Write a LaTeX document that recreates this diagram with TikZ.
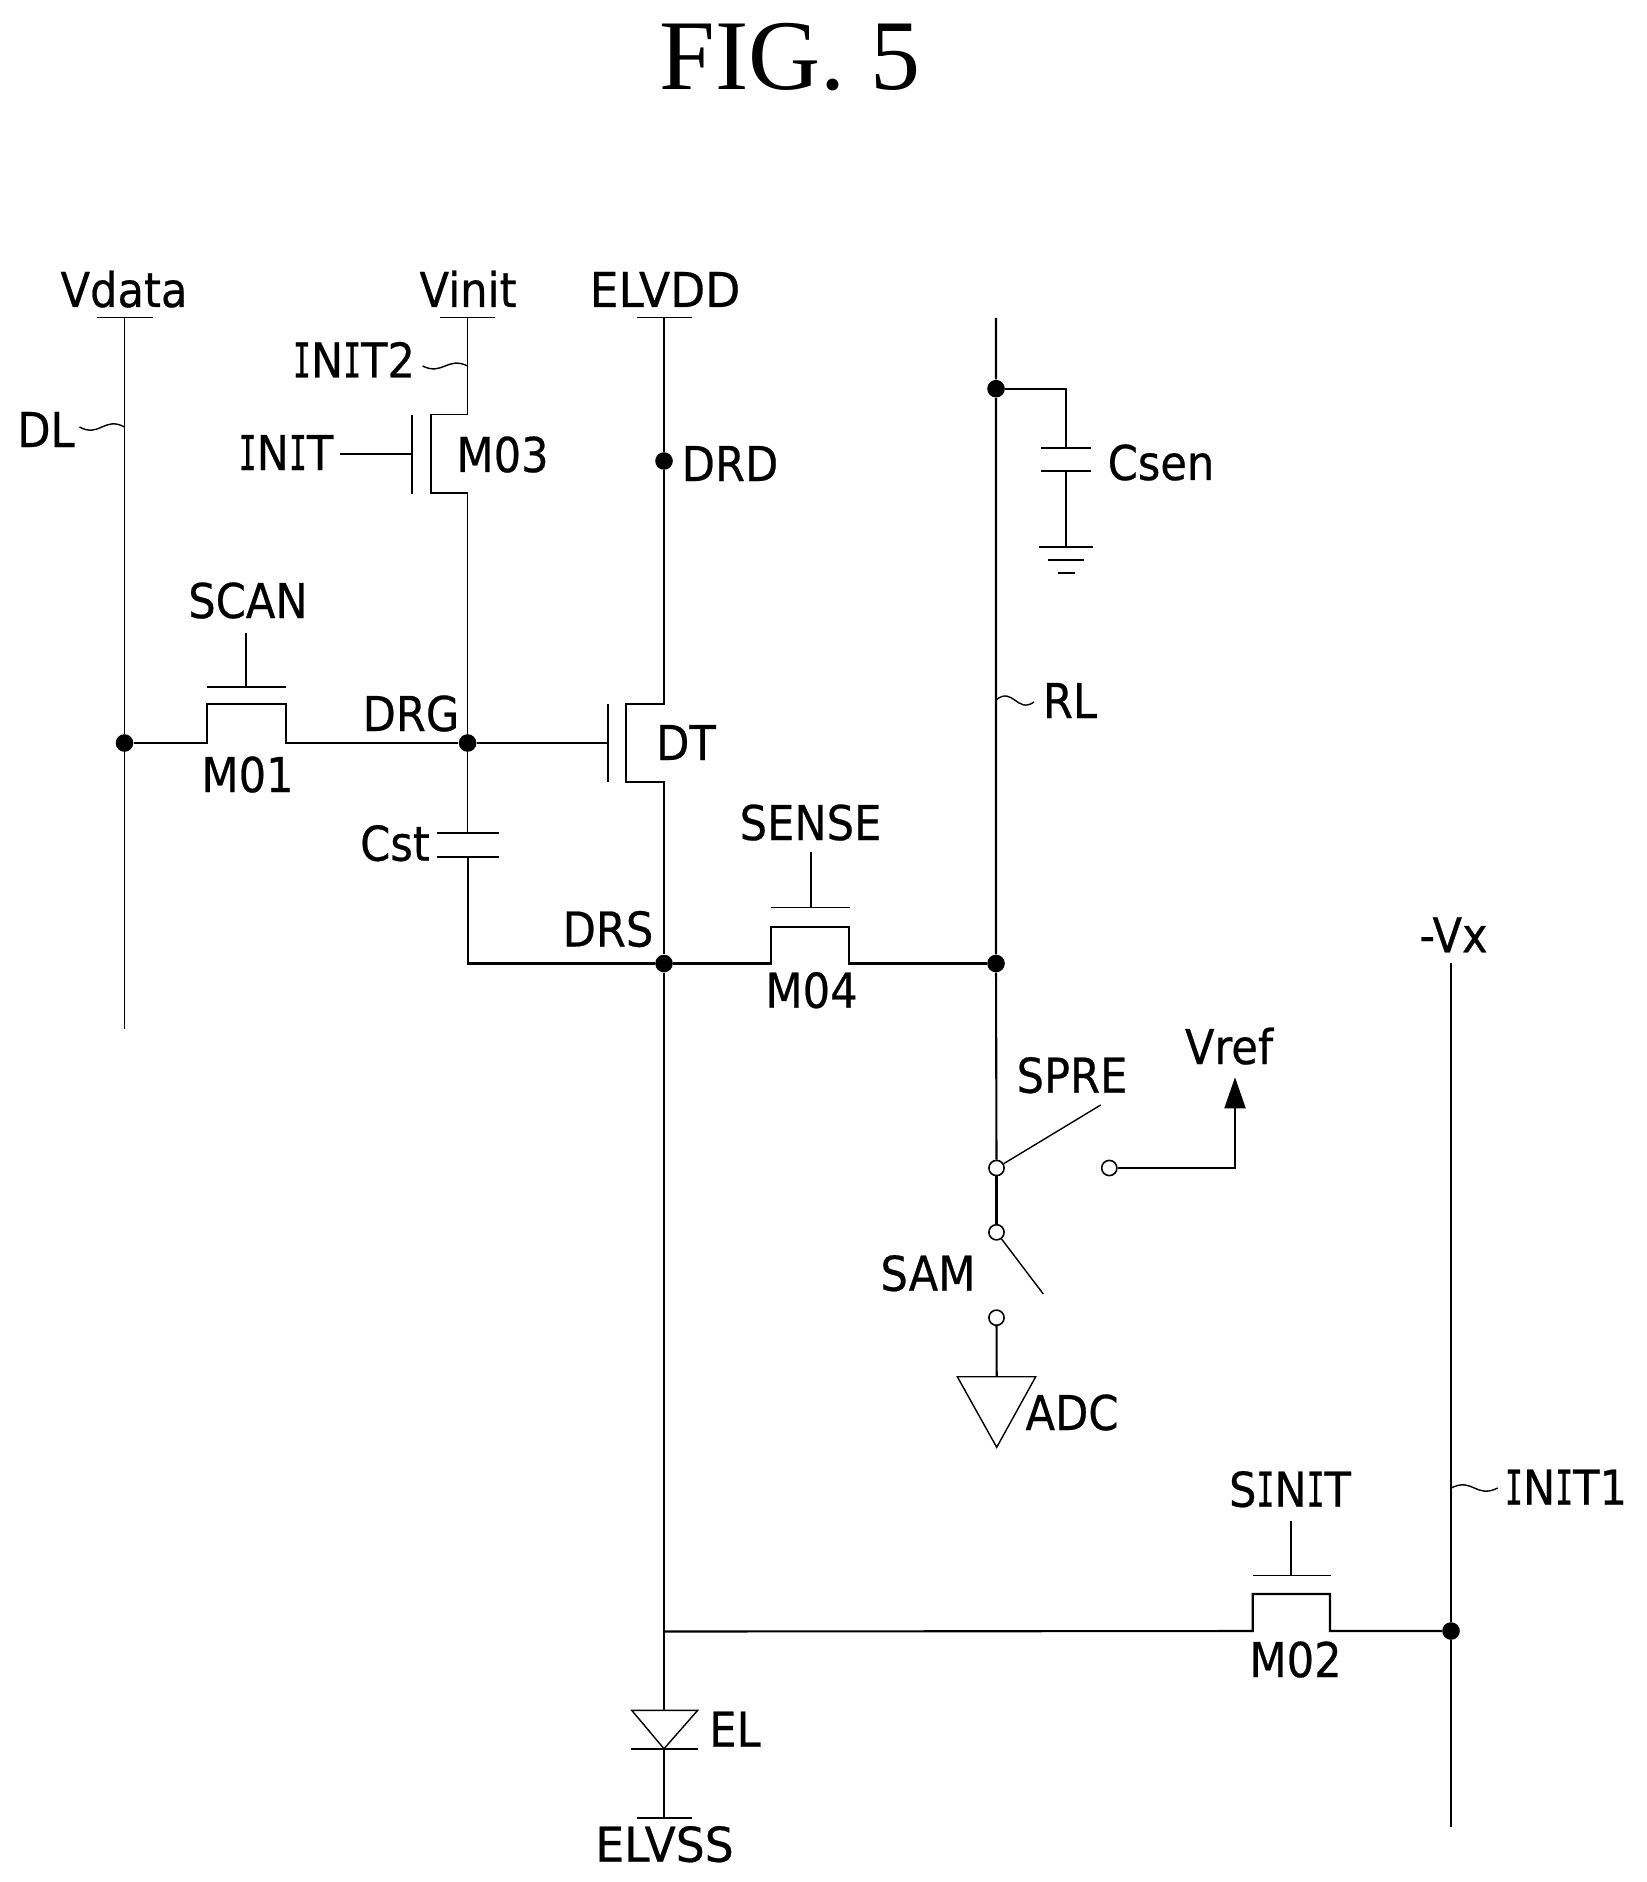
\documentclass[tikz,border=0pt]{standalone}
\usepackage{fontspec}
\setmainfont{DejaVu Sans}[FakeStretch=0.9, FakeBold=0.5]
\newfontfamily\titlefont{Liberation Serif}
\newfontfamily\widefont{DejaVu Sans}[FakeStretch=0.95, FakeBold=0.5]
\newfontfamily\serifi{DejaVu Sans Mono}[FakeStretch=0.62, FakeBold=0.5]
\newcommand{\Iser}{{\serifi I}}
\usetikzlibrary{arrows.meta}

\tikzset{
    wire/.style={line width=1.05pt},
    thinwire/.style={line width=0.7pt},
    dot/.style={circle, fill=black, inner sep=0pt, minimum size=8.8pt},
    opendot/.style={circle, draw, fill=white, line width=0.8pt, inner sep=0pt, minimum size=7.6pt},
    lbl/.style={anchor=base, inner sep=0pt, font=\fontsize{24}{24}\selectfont},
}

\begin{document}
\begin{tikzpicture}[x=0.5pt, y=-0.5pt]
    \useasboundingbox (0,0) rectangle (1646,1882);

    % Title
    \node[anchor=base, inner sep=0pt, font=\titlefont\fontsize{50}{50}\selectfont] (title) at (790,90) {FIG. 5};

    % Junctions
    \node[dot] (dlj) at (124.5,743) {};
    \node[dot] (drg) at (467.6,743) {};
    \node[dot] (drd) at (664,461) {};
    \node[dot] (drs) at (664,963.5) {};
    \node[dot] (rlt) at (996,388.7) {};
    \node[dot] (rlj) at (996,963.5) {};
    \node[dot] (vxj) at (1451,1631) {};
    \node[opendot] (sw1) at (996.5,1168) {};
    \node[opendot] (sw2) at (1109.3,1168) {};
    \node[opendot] (sw3) at (996.5,1232.3) {};
    \node[opendot] (sw4) at (996.5,1317.7) {};

    % Rail ends
    \coordinate (vdatat) at (124.5,317.5);
    \coordinate (vdatab) at (124.5,1029);
    \coordinate (vinitt) at (467.6,317.5);
    \coordinate (elvddt) at (664,317.5);
    \coordinate (rltop) at (996,318);
    \coordinate (vxt) at (1451,963.3);
    \coordinate (vxb) at (1451,1827);
    \coordinate (elvssb) at (664,1818);
    \coordinate (elj) at (664,1631.5);

    % Vdata
    \draw[thinwire] (vdatat) -- (dlj) -- (vdatab);
    \draw[thinwire] (97,317.5) -- (153,317.5);
    \node[lbl] (vdata) at (124,307) {Vdata};
    \node[lbl] (dl) at (46,447) {DL};
    \coordinate (dlw) at (79.5,427);
    \coordinate (dle) at (124.5,427);
    \draw[thinwire] (dlw) .. controls +(20,11) and +(-20,-11) .. (dle);

    % Vinit and M03
    \coordinate (m03t) at (467.6,414.5);
    \coordinate (m03b) at (467.6,493);
    \coordinate (m03g) at (412,454);
    \draw[thinwire] (vinitt) -- (m03t);
    \draw[thinwire] (440,317.5) -- (495,317.5);
    \draw[thinwire] (m03t) -- (431,414.5) -- (431,493) -- (m03b);
    \draw[thinwire] (412,415) -- (412,493.5);
    \draw[thinwire] (340,454) -- (m03g);
    \draw[thinwire] (m03b) -- (drg);
    \node[lbl] (vinit) at (468,307) {Vinit};
    \node[lbl] (init) at (286,470) {\Iser N\Iser T};
    \node[lbl] (m03) at (502.5,472) {M03};
    \node[lbl] (init2) at (354,377.5) {\Iser N\Iser T2};
    \coordinate (i2w) at (422.6,366);
    \coordinate (i2e) at (467.6,366);
    \draw[thinwire] (i2w) .. controls +(20,10) and +(-20,-10) .. (i2e);

    % ELVDD and DT
    \coordinate (dtt) at (664,704);
    \coordinate (dtb) at (664,781.6);
    \coordinate (dtg) at (608,743);
    \draw[wire] (elvddt) -- (drd) -- (dtt) -- (626,704) -- (626,781.6) -- (dtb) -- (drs);
    \draw[thinwire] (636.5,317.5) -- (692,317.5);
    \draw[thinwire] (608,704) -- (608,782);
    \draw[wire] (drg) -- (dtg);
    \node[lbl] (elvdd) at (665,307) {\widefont ELVDD};
    \node[lbl] (drdt) at (730,481) {DRD};
    \node[lbl] (dt) at (686,760) {DT};

    % M01
    \coordinate (m01l) at (206.6,743);
    \coordinate (m01r) at (285.6,743);
    \coordinate (m01g) at (246,687);
    \draw[wire] (dlj) -- (m01l) -- ++(0,-39) -| (m01r) -- (drg);
    \draw[thinwire] (207,687) -- (286,687);
    \draw[thinwire] (246,632.7) -- (m01g);
    \node[lbl] (scan) at (248,618) {SCAN};
    \node[lbl] (m01) at (247.5,792) {M01};
    \node[lbl] (drgt) at (411,731) {DRG};

    % Cst
    \coordinate (csta) at (467.6,832.6);
    \coordinate (cstb) at (467.6,857);
    \draw[thinwire] (drg) -- (csta);
    \draw[wire] (cstb) |- (drs);
    \draw[wire] (437,832.6) -- (499,832.6);
    \draw[wire] (437,857) -- (499,857);
    \node[lbl] (cst) at (395,860.7) {Cst};
    \node[lbl] (drst) at (608,946.5) {DRS};

    % M04
    \coordinate (m04l) at (771,963.5);
    \coordinate (m04r) at (849,963.5);
    \coordinate (m04g) at (811,907.7);
    \draw[wire] (drs) -- (m04l) -- ++(0,-36.8) -| (m04r) -- (rlj);
    \draw[thinwire] (771,907.7) -- (850,907.7);
    \draw[thinwire] (811,852) -- (m04g);
    \node[lbl] (sense) at (810.5,840) {SENSE};
    \node[lbl] (m04) at (811.5,1007.7) {M04};

    % Sense line and Csen
    \coordinate (cta) at (1066,447.7);
    \coordinate (ctb) at (1066,471);
    \coordinate (gnd) at (1066,547);
    \draw[wire] (rltop) -- (rlt) -- (rlj) -- (sw1);
    \draw[wire] (rlt) -| (cta);
    \draw[wire] (ctb) -- (gnd);
    \draw[wire] (1041.3,447.7) -- (1091,447.7);
    \draw[wire] (1041.3,471) -- (1091,471);
    \draw[wire] (1039,547) -- (1093,547);
    \draw[wire] (1048,559.7) -- (1084,559.7);
    \draw[wire] (1058,572.7) -- (1075,572.7);
    \node[lbl] (csen) at (1161,480) {Csen};
    \node[lbl] (rl) at (1070,718) {RL};
    \coordinate (rlw) at (996,700);
    \coordinate (rle) at (1034,702);
    \draw[thinwire] (rlw) .. controls +(17,-14) and +(-17,12) .. (rle);

    % Switches
    \coordinate (spree) at (1100.7,1105);
    \coordinate (same) at (1043.3,1294);
    \coordinate (vrefa) at (1235,1077.3);
    \draw[thinwire] (sw1) -- (spree);
    \draw[wire] (sw1) -- (sw3);
    \draw[thinwire] (sw3) -- (same);
    \draw[wire, -{Triangle[length=15.5pt, width=10.5pt]}] (sw2) -| (vrefa);
    \node[lbl] (spre) at (1072,1092.7) {SPRE};
    \node[lbl] (sam) at (928,1290.7) {SAM};
    \node[lbl] (vref) at (1229,1064) {Vref};

    % ADC
    \coordinate (adct) at (996.7,1376.7);
    \draw[wire] (sw4) -- (adct);
    \draw[thinwire] (957.3,1376.7) -- (1035.7,1376.7) -- (996.7,1447.3) -- cycle;
    \node[lbl] (adc) at (1072,1430) {ADC};

    % -Vx and M02
    \coordinate (m02l) at (1252.7,1631);
    \coordinate (m02r) at (1330,1631);
    \coordinate (m02g) at (1291,1575.7);
    \draw[thinwire] (vxt) -- (vxj) -- (vxb);
    \draw[wire] (elj) -- (m02l) -- ++(0,-37) -| (m02r) -- (vxj);
    \draw[thinwire] (1253,1575.7) -- (1331,1575.7);
    \draw[thinwire] (1291,1521) -- (m02g);
    \node[lbl] (vx) at (1453.5,952.3) {-Vx};
    \node[lbl] (sinit) at (1290,1506.7) {S\Iser N\Iser T};
    \node[lbl] (m02) at (1295.5,1677) {M02};
    \node[lbl] (init1) at (1566,1504.7) {\Iser N\Iser T1};
    \coordinate (i1w) at (1451,1488);
    \coordinate (i1e) at (1497.7,1488);
    \draw[thinwire] (i1w) .. controls +(22,-11) and +(-22,11) .. (i1e);

    % EL
    \coordinate (elt) at (664,1710.3);
    \coordinate (elb) at (664,1748.7);
    \draw[wire] (drs) -- (elt);
    \draw[thinwire] (631.7,1710.3) -- (697.7,1710.3) -- (elb) -- cycle;
    \draw[wire] (631,1748.7) -- (698,1748.7);
    \draw[wire] (elb) -- (elvssb);
    \draw[thinwire] (636.7,1818) -- (692,1818);
    \node[lbl] (el) at (735,1746.7) {EL};
    \node[lbl] (elvss) at (664.5,1861.7) {\widefont ELVSS};

\end{tikzpicture}
\end{document}
